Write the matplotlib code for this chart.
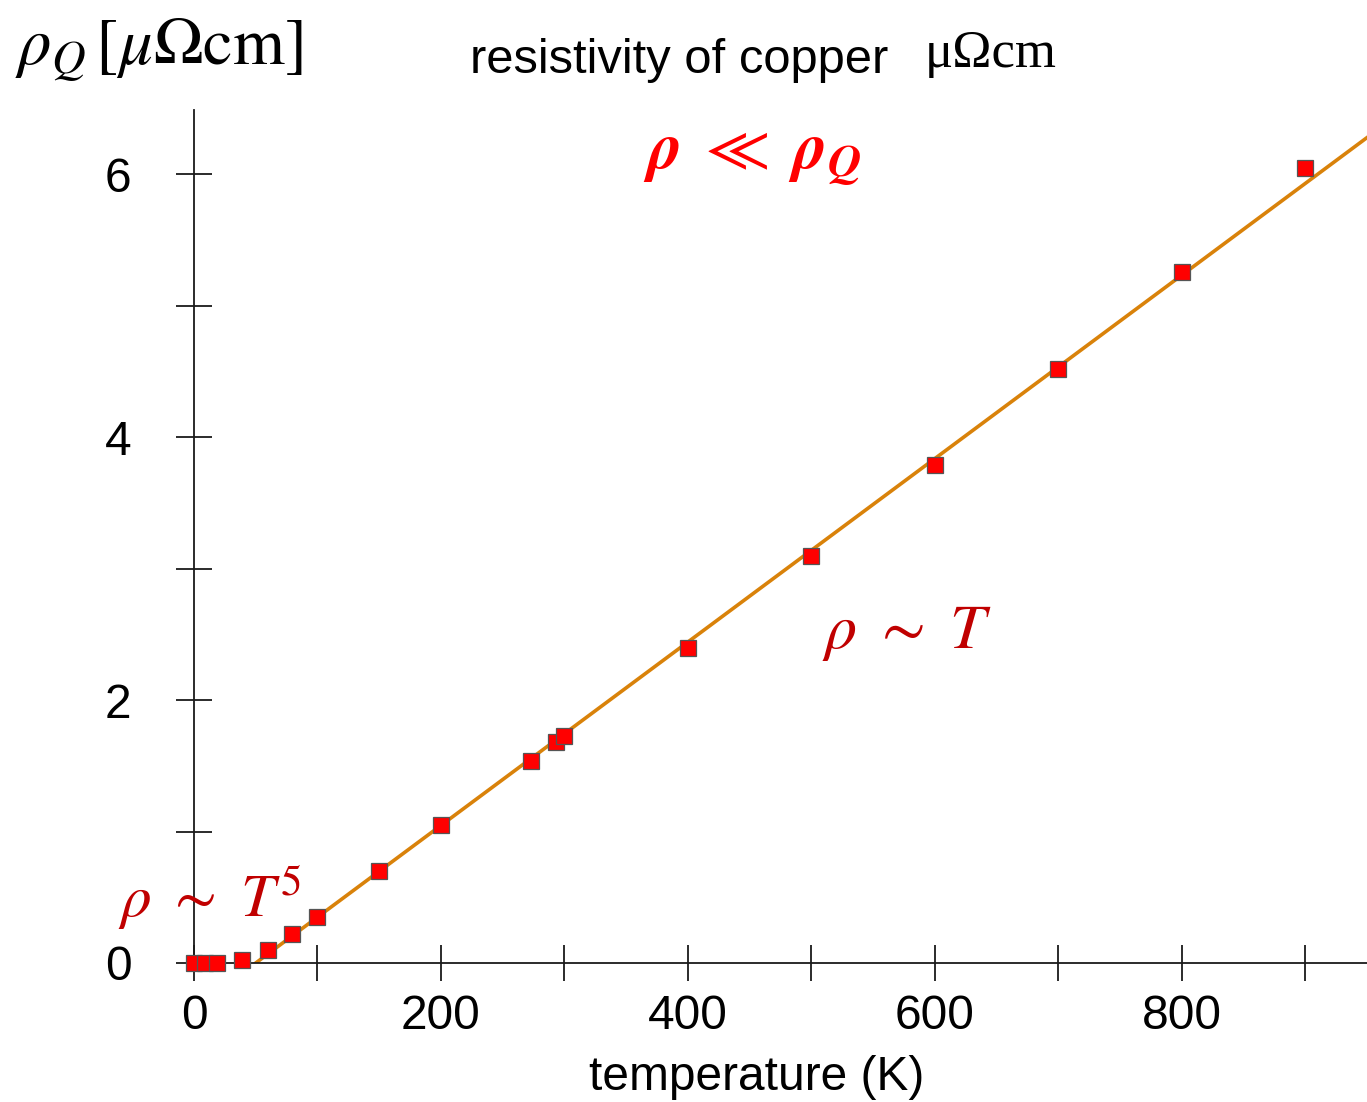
import matplotlib
matplotlib.use('Agg')
import matplotlib.pyplot as plt

# measured resistivity of copper (muOhm cm) vs temperature (K)
temps = [0, 9, 19, 39, 60, 79, 100, 150, 200, 273, 293, 300, 400, 500, 600, 700, 800, 900]
rho = [0.0, 0.0, 0.0, 0.02, 0.10, 0.22, 0.35, 0.70, 1.05, 1.54, 1.68, 1.73, 2.40, 3.10, 3.79, 4.52, 5.26, 6.05]

# linear fit line end points
fit_t = [50, 950]
fit_rho = [0.0, 6.28]

x_ticks = list(range(0, 1000, 100))
x_labels = ['0', '', '200', '', '400', '', '600', '', '800', '']
y_ticks = [0, 1, 2, 3, 4, 5, 6]
y_labels = ['0', '', '2', '', '4', '', '6']

W, H = 1367, 1102
fig = plt.figure(figsize=(W / 100, H / 100), dpi=100)
plt.rcParams['mathtext.fontset'] = 'stix'

def fx(px):
    return px / W

def fy(py):
    return 1 - py / H

ax = fig.add_axes([fx(194), fy(963), fx(1367) - fx(194), fy(110) - fy(963)])
ax.set_xlim(0, 950)
ax.set_ylim(0, 6.49)

ax.plot(fit_t, fit_rho, color='#d9820a', lw=2.6, zorder=2)
ax.plot(temps, rho, ls='none', marker='s', ms=11, mfc='#ff0000', mec='#555555',
        mew=0.9, clip_on=False, zorder=3)

for s in ['top', 'right']:
    ax.spines[s].set_visible(False)
for s in ['left', 'bottom']:
    ax.spines[s].set_linewidth(1.3)
    ax.spines[s].set_color('#1a1a1a')

ax.set_xticks(x_ticks)
ax.set_xticklabels(x_labels)
ax.set_yticks(y_ticks)
ax.set_yticklabels(y_labels)
ax.tick_params(axis='both', direction='inout', length=26, width=1.3, color='#1a1a1a',
               labelsize=34.5)
ax.tick_params(axis='x', pad=9)
ax.tick_params(axis='y', pad=32)
for lab in ax.get_xticklabels() + ax.get_yticklabels():
    lab.set_family('Liberation Sans')

fig.text(fx(757), fy(1090), 'temperature (K)', ha='center', va='baseline',
         fontsize=34.5, family='Liberation Sans')
fig.text(fx(470), fy(73), 'resistivity of copper', ha='left', va='baseline',
         fontsize=35.2, family='Liberation Sans')
fig.text(fx(925), fy(67), 'μΩcm', ha='left', va='baseline',
         fontsize=38, family='Liberation Serif')

fig.text(fx(15), fy(63), r'$\rho_Q\,[\mu\Omega\mathrm{cm}]$', ha='left', va='baseline',
         fontsize=48)

fig.text(fx(643), fy(167), r'$\mathbfit{\rho}\ \ll\ \mathbfit{\rho}_{\mathbfit{Q}}$',
         ha='left', va='baseline', fontsize=47.5, color='#ff0000')
fig.text(fx(822), fy(648), r'$\rho\ \sim\ T$', ha='left', va='baseline',
         fontsize=46, color='#c00000')
fig.text(fx(118), fy(917), r'$\rho\ \sim\ T^5$', ha='left', va='baseline',
         fontsize=44, color='#c00000')

fig.savefig('out.png', dpi=100)
